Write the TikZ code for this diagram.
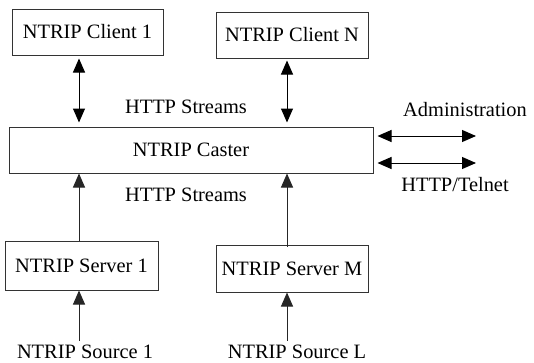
\documentclass[tikz,border=0pt]{standalone}
\usepackage{fontspec}
\setmainfont{Liberation Serif}
\usetikzlibrary{arrows.meta}

\tikzset{
  >={Triangle[length=14pt,width=12pt]},
  box/.style={draw=black!80, line width=1pt, inner sep=0pt},
  lbl/.style={inner sep=1pt},
  dbl/.style={<->, line width=1pt},
  up/.style={->, line width=1pt, black!85}
}

\begin{document}
\begin{tikzpicture}[x=1pt,y=1pt,font=\fontsize{20.4}{24}\selectfont]
			\useasboundingbox (0,0) rectangle (534,-362);
			% boxes
			\node[box, minimum width=151, minimum height=46] (client1) at (87.5,-32) {NTRIP Client 1};
			\node[box, minimum width=152, minimum height=46] (clientN) at (292,-35) {NTRIP Client N};
			\node[box, minimum width=364, minimum height=46] (caster) at (191,-150) {NTRIP Caster};
			\node[box, minimum width=153, minimum height=49] (server1) at (81.5,-265.5) {NTRIP Server 1};
			\node[box, minimum width=152, minimum height=47] (serverM) at (292,-268.5) {NTRIP Server M};
			% plain labels
			\node[lbl] (source1) at (85,-352) {NTRIP Source 1};
			\node[lbl] (sourceL) at (297,-352) {NTRIP Source L};
			\node[lbl] (streamsA) at (186,-107) {HTTP Streams};
			\node[lbl] (streamsB) at (186,-195) {HTTP Streams};
			\node[lbl] (admin) at (465,-110) {Administration};
			\node[lbl] (telnet) at (455,-185) {HTTP/Telnet};
			% columns for the arrows
			\coordinate (colA) at (79,0);
			\coordinate (colB) at (287,0);
			\coordinate (admA) at (476,-136);
			\coordinate (admB) at (476,-163);
			% connectors
			\draw[dbl] ([yshift=-3pt]client1.south -| colA) -- ([yshift=4pt]caster.north -| colA);
			\draw[dbl] ([yshift=-2pt]clientN.south -| colB) -- ([yshift=4pt]caster.north -| colB);
			\draw[up] (server1.north -| colA) -- (caster.south -| colA);
			\draw[up] ([yshift=-2pt]serverM.north -| colB) -- (caster.south -| colB);
			\draw[up] ([yshift=3pt]source1.north -| colA) -- (server1.south -| colA);
			\draw[up] ([yshift=3pt]sourceL.north -| colB) -- (serverM.south -| colB);
			\draw[dbl] ([xshift=4pt]caster.east |- admA) -- (admA);
			\draw[dbl] ([xshift=4pt]caster.east |- admB) -- (admB);
		\end{tikzpicture}
\end{document}
